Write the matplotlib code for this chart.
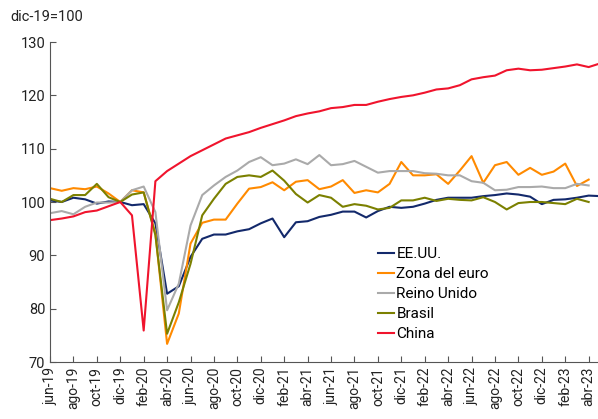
import matplotlib.pyplot as plt

plt.rcParams['font.family'] = ['Roboto', 'DejaVu Sans']

# monthly, jun-19 .. may-23
months = ['ene', 'feb', 'mar', 'abr', 'may', 'jun', 'jul', 'ago', 'sep', 'oct', 'nov', 'dic']
labels = []
for year in range(19, 24):
    for m in months:
        labels.append(f'{m}-{year}')
labels = labels[5:53]

eeuu = [100.3, 100.0, 100.8, 100.5, 99.7, 100.1, 100.0, 99.4, 99.6, 96.0,
        82.8, 84.2, 89.7, 93.1, 93.9, 93.9, 94.5, 94.9, 96.0, 96.9,
        93.4, 96.2, 96.4, 97.2, 97.6, 98.2, 98.2, 97.1, 98.3, 99.1,
        98.9, 99.1, 99.7, 100.4, 100.8, 100.8, 100.8, 101.1, 101.3, 101.6,
        101.4, 101.0, 99.6, 100.4, 100.5, 100.8, 101.2, 101.1]
zona_euro = [102.6, 102.1, 102.6, 102.4, 102.9, 101.6, 100.0, 102.2, 101.8, 94.1,
             73.4, 79.1, 92.2, 96.1, 96.7, 96.7, 99.7, 102.5, 102.8, 103.7,
             102.2, 103.8, 104.1, 102.4, 102.9, 104.1, 101.7, 102.2, 101.8, 103.4,
             107.5, 105.0, 105.0, 105.2, 103.4, 105.9, 108.6, 103.6, 106.9, 107.5,
             105.1, 106.4, 105.1, 105.7, 107.2, 103.0, 104.2]
reino_unido = [97.9, 98.3, 97.7, 99.1, 99.9, 99.9, 100.0, 102.2, 102.9, 98.1,
               79.7, 84.7, 95.6, 101.3, 103.1, 104.7, 105.9, 107.5, 108.4, 106.9,
               107.2, 108.0, 107.1, 108.8, 106.9, 107.1, 107.7, 106.6, 105.5, 105.8,
               105.8, 105.8, 105.4, 105.3, 105.0, 105.0, 103.9, 103.6, 102.2, 102.3,
               102.8, 102.8, 102.9, 102.6, 102.6, 103.4, 103.1]
brasil = [100.6, 100.0, 101.3, 101.3, 103.4, 100.9, 100.0, 101.4, 101.8, 93.8,
          75.3, 81.2, 88.4, 97.5, 100.6, 103.4, 104.7, 105.0, 104.7, 105.9,
          104.0, 101.5, 99.9, 101.3, 100.8, 99.1, 99.6, 99.3, 98.6, 98.9,
          100.3, 100.3, 100.8, 100.2, 100.6, 100.4, 100.3, 100.9, 100.0, 98.6,
          99.8, 100.0, 100.0, 99.8, 99.6, 100.6, 100.0]
china = [96.6, 96.9, 97.3, 98.1, 98.4, 99.2, 100.0, 97.5, 75.9, 103.9,
         105.8, 107.2, 108.6, 109.7, 110.8, 111.9, 112.5, 113.1, 113.9, 114.6,
         115.3, 116.1, 116.6, 117.0, 117.6, 117.8, 118.2, 118.2, 118.8, 119.3,
         119.7, 120.0, 120.5, 121.1, 121.3, 121.9, 123.0, 123.4, 123.7, 124.7,
         125.0, 124.7, 124.8, 125.1, 125.4, 125.8, 125.3, 126.0]

series = [('EE.UU.', eeuu, '#13296B'),
          ('Zona del euro', zona_euro, '#FF8A00'),
          ('Reino Unido', reino_unido, '#AAAAAA'),
          ('Brasil', brasil, '#7B8000'),
          ('China', china, '#F0142D')]

fig = plt.figure(figsize=(5.98, 4.19), dpi=100)
ax = fig.add_axes([50 / 598, 57 / 419, 548 / 598, 320 / 419])

for name, vals, color in series:
    ax.plot(range(len(vals)), vals, color=color, lw=1.5, label=name)

ax.set_ylim(70, 130)
ax.set_yticks([70, 80, 90, 100, 110, 120, 130])
ax.set_xlim(0, 548 / 11.71)
ax.set_xticks(range(0, 47, 2))
ax.set_xticklabels(labels[0:47:2], rotation=90)

for s in ['top', 'right']:
    ax.spines[s].set_visible(False)
for s in ['left', 'bottom']:
    ax.spines[s].set_color('#555555')
ax.tick_params(direction='in', length=4, color='#555555', labelsize=10, colors='#222222')
ax.tick_params(axis='y', labelsize=10.5)

fig.text(10 / 598, 1 - 17 / 419, 'dic-19=100', fontsize=10.5, va='center', ha='left', color='#222222')

fig.legend(loc='upper left', bbox_to_anchor=(378 / 598, 1 - 247 / 419), frameon=False,
           fontsize=11, handlelength=1.05, handletextpad=0.15, labelspacing=0.4,
           borderpad=0, borderaxespad=0)

fig.savefig('out.png', dpi=100)
